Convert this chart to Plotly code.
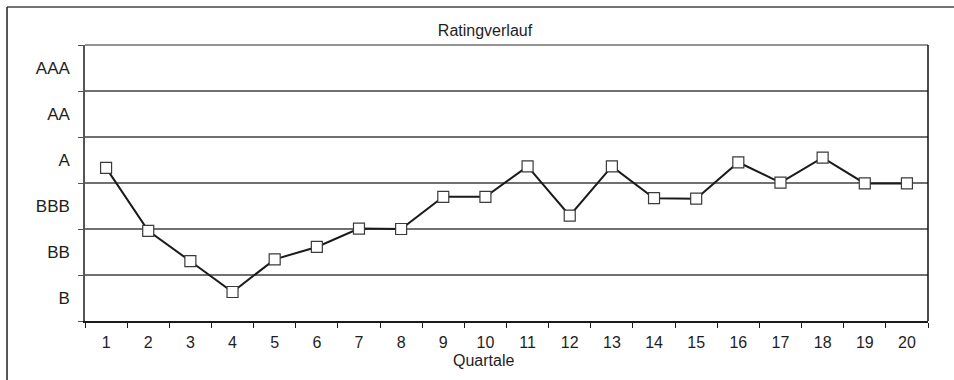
import plotly.graph_objects as go

quarters = list(range(1, 21))
ratings = ["B", "BB", "BBB", "A", "AA", "AAA"]
values = [3.33, 1.96, 1.30, 0.63, 1.34, 1.61, 2.01, 2.00, 2.70, 2.70,
          3.36, 2.29, 3.36, 2.67, 2.66, 3.45, 3.01, 3.55, 2.99, 2.99]

FONT = "Liberation Sans, Arial, sans-serif"
TXT = "#1e1e1e"

fig = go.Figure()
fig.add_trace(go.Scatter(
    x=quarters, y=values, mode="lines+markers",
    line=dict(color="#1a1a1a", width=2),
    marker=dict(symbol="square", size=11, color="white",
                line=dict(color="#3a3a3a", width=1.2)),
    showlegend=False, hoverinfo="skip",
))

band_centers = [i + 0.5 for i in range(len(ratings))]
band_edges = list(range(len(ratings) + 1))
cat_edges = [q - 0.5 for q in quarters] + [quarters[-1] + 0.5]

fig.update_layout(
    width=954, height=380,
    margin=dict(l=85, r=26, t=45, b=59),
    paper_bgcolor="white", plot_bgcolor="white",
    font=dict(family=FONT, size=17, color=TXT),
    title=dict(text="Ratingverlauf", x=0.4745, xref="paper", xanchor="center",
               y=1 - 30.5 / 380, yanchor="middle",
               font=dict(family=FONT, size=16, color=TXT)),
    xaxis=dict(
        range=[0.5, 20.5], tickvals=quarters, ticktext=[str(q) for q in quarters],
        ticks="", showgrid=False, zeroline=False,
        showline=True, linecolor="#1a1a1a", linewidth=1.5,
        tickfont=dict(family=FONT, size=16, color=TXT),
        ticklabelstandoff=6,
        minor=dict(tickvals=cat_edges, ticks="outside", ticklen=5,
                   tickcolor="#1a1a1a", tickwidth=1.2, showgrid=False),
    ),
    yaxis=dict(
        range=[0, 6], tickvals=band_centers, ticktext=ratings,
        ticks="", showgrid=False, zeroline=False,
        showline=True, linecolor="#555555", linewidth=1.5,
        tickfont=dict(family=FONT, size=17, color=TXT),
        ticklabelstandoff=10,
        minor=dict(tickvals=band_edges, ticks="outside", ticklen=5,
                   tickcolor="#555555", tickwidth=1.2,
                   showgrid=True, gridcolor="#707070", gridwidth=1.5),
    ),
    shapes=[
        dict(type="line", xref="paper", yref="paper", x0=0, x1=1, y0=1, y1=1,
             line=dict(color="#707070", width=1.5), layer="below"),
        dict(type="line", xref="paper", yref="paper", x0=1, x1=1, y0=0, y1=1,
             line=dict(color="#111111", width=1.5)),
        dict(type="line", xref="paper", yref="paper", x0=-0.0925, x1=1.2,
             y0=1.1377, y1=1.1377, line=dict(color="#444444", width=1.5)),
        dict(type="line", xref="paper", yref="paper", x0=-0.0925, x1=-0.0925,
             y0=-0.4, y1=1.1377, line=dict(color="#222222", width=1.5)),
    ],
    annotations=[
        dict(text="Quartale", xref="paper", yref="paper", x=0.4733, y=-0.1438,
             xanchor="center", yanchor="middle", showarrow=False,
             font=dict(family=FONT, size=16, color=TXT)),
    ],
)

fig.write_html("out.html", config={"displayModeBar": False},
               post_script="document.body.style.margin='0';")
